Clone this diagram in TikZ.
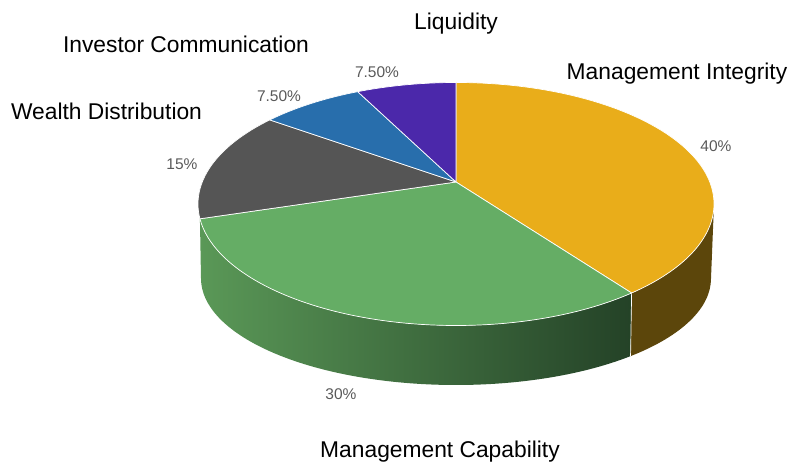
\documentclass[tikz,border=0pt]{standalone}
\usepackage{fontspec}
\setmainfont{Liberation Sans}

\definecolor{integrity}{RGB}{233,173,26}
\definecolor{integside}{RGB}{92,70,11}
\definecolor{capability}{RGB}{101,173,101}
\definecolor{capleft}{RGB}{90,152,87}
\definecolor{capmid}{RGB}{63,113,63}
\definecolor{capright}{RGB}{36,66,39}
\definecolor{wealth}{RGB}{85,85,85}
\definecolor{investor}{RGB}{40,110,172}
\definecolor{liquidity}{RGB}{75,40,170}
\definecolor{pctgray}{RGB}{89,89,89}

\tikzset{
  toparc/.style={x radius=258, y radius=121.5},
  botarc/.style={x radius=255, y radius=106.5},
  slice/.style={draw=white, line width=0.7pt, line join=round},
  catlabel/.style={anchor=base, inner sep=0pt, font=\fontsize{22.8}{27}\selectfont},
  pctlabel/.style={anchor=base, inner sep=0pt, text=pctgray, font=\fontsize{15.5}{18}\selectfont}
}

\begin{document}
\begin{tikzpicture}[x=1pt,y=1pt]
    \useasboundingbox (0,0) rectangle (804,461);
    \coordinate (top) at (456,257);
    \coordinate (bot) at (456,182.5);
    \coordinate (apex) at (456,279);
    % slice borders on the top face
    \coordinate (iq) at ([shift={(top)}]90:258 and 121.5);
    \coordinate (ig) at ([shift={(top)}]-47.1:258 and 121.5);
    \coordinate (gw) at ([shift={(top)}]187:258 and 121.5);
    \coordinate (wb) at ([shift={(top)}]136.2:258 and 121.5);
    \coordinate (bl) at ([shift={(top)}]112.4:258 and 121.5);
    % points on the bottom rim
    \coordinate (gb) at ([shift={(bot)}]-46.8:255 and 106.5);
    \coordinate (rb) at ([shift={(bot)}]0:255 and 106.5);

    % side walls
    \shade[left color=capleft, middle color=capmid, right color=capright]
      (gw) arc[toparc, start angle=187, end angle=312.9] -- (gb)
      arc[botarc, start angle=313.2, end angle=180] -- cycle;
    \fill[integside] (ig) arc[toparc, start angle=-47.1, end angle=0] -- (rb)
      arc[botarc, start angle=0, end angle=-46.8] -- cycle;
    \draw[white, line width=0.7pt] (ig) -- (gb);

    % top face
    \filldraw[slice, fill=integrity] (apex) -- (iq) arc[toparc, start angle=90, end angle=-47.1] -- cycle;
    \filldraw[slice, fill=capability] (apex) -- (ig) arc[toparc, start angle=-47.1, end angle=-173] -- cycle;
    \filldraw[slice, fill=wealth] (apex) -- (gw) arc[toparc, start angle=187, end angle=136.2] -- cycle;
    \filldraw[slice, fill=investor] (apex) -- (wb) arc[toparc, start angle=136.2, end angle=112.4] -- cycle;
    \filldraw[slice, fill=liquidity] (apex) -- (bl) arc[toparc, start angle=112.4, end angle=90] -- cycle;

    % labels
    \node[catlabel] (liq) at (456,431) {Liquidity};
    \node[catlabel] (inv) at (186,408) {Investor Communication};
    \node[catlabel] (integ) at (677,381) {Management Integrity};
    \node[catlabel] (wea) at (106.5,341) {Wealth Distribution};
    \node[catlabel] (cap) at (440,3.5) {Management Capability};
    \node[pctlabel] (liqpct) at (377,383) {7.50\%};
    \node[pctlabel] (invpct) at (279,359) {7.50\%};
    \node[pctlabel] (weapct) at (182,291) {15\%};
    \node[pctlabel] (integpct) at (716,309) {40\%};
    \node[pctlabel] (cappct) at (341,61) {30\%};
  \end{tikzpicture}
\end{document}
